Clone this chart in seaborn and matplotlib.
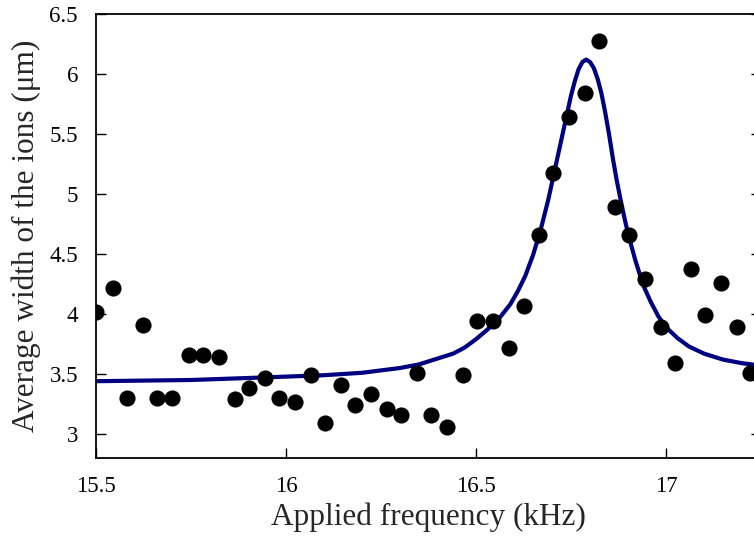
import matplotlib
matplotlib.use("Agg")
import matplotlib.pyplot as plt
import seaborn as sns
import pandas as pd

# Measured points
freq_khz = [15.500, 15.544, 15.581, 15.623, 15.660, 15.700, 15.744, 15.782, 15.823,
            15.867, 15.902, 15.946, 15.982, 16.023, 16.067, 16.103, 16.144, 16.182,
            16.223, 16.265, 16.303, 16.344, 16.382, 16.424, 16.466, 16.503, 16.546,
            16.587, 16.625, 16.666, 16.703, 16.745, 16.787, 16.824, 16.866, 16.903,
            16.945, 16.987, 17.024, 17.065, 17.103, 17.145, 17.186, 17.220]
width_um = [4.02, 4.22, 3.30, 3.91, 3.30, 3.30, 3.656, 3.656, 3.64,
            3.29, 3.386, 3.47, 3.30, 3.27, 3.49, 3.09, 3.406, 3.24,
            3.336, 3.21, 3.156, 3.506, 3.158, 3.058, 3.49, 3.94, 3.94,
            3.72, 4.07, 4.656, 5.175, 5.64, 5.84, 6.275, 4.89, 4.656,
            4.29, 3.89, 3.59, 4.375, 3.99, 4.256, 3.89, 3.506]

# Fitted curve
fit_freq = [15.50, 15.75, 15.93, 16.10, 16.20, 16.30, 16.35, 16.41, 16.44, 16.47,
            16.50, 16.53, 16.56, 16.59, 16.61, 16.63, 16.65, 16.67, 16.69, 16.71,
            16.73, 16.75, 16.76, 16.77, 16.78, 16.79, 16.80, 16.81, 16.82, 16.83,
            16.84, 16.85, 16.86, 16.87, 16.88, 16.89, 16.90, 16.92, 16.94, 16.96,
            16.98, 17.00, 17.03, 17.06, 17.10, 17.15, 17.20, 17.25]
fit_width = [3.44, 3.45, 3.47, 3.49, 3.51, 3.55, 3.58, 3.64, 3.67, 3.72,
             3.79, 3.87, 3.96, 4.08, 4.19, 4.32, 4.49, 4.70, 4.95, 5.24,
             5.53, 5.82, 5.94, 6.04, 6.10, 6.12, 6.10, 6.05, 5.96, 5.84,
             5.68, 5.50, 5.30, 5.12, 4.96, 4.81, 4.67, 4.44, 4.24, 4.10,
             3.98, 3.89, 3.80, 3.73, 3.67, 3.62, 3.59, 3.57]

x_ticks = [15.5, 16, 16.5, 17]
x_tick_labels = ["15.5", "16", "16.5", "17"]
y_ticks = [3, 3.5, 4, 4.5, 5, 5.5, 6, 6.5]
y_tick_labels = ["3", "3.5", "4", "4.5", "5", "5.5", "6", "6.5"]

pts = pd.DataFrame({"f": freq_khz, "w": width_um})
fit = pd.DataFrame({"f": fit_freq, "w": fit_width})

sns.set_style("ticks")
plt.rcParams["font.family"] = ["Liberation Serif", "DejaVu Serif"]

fig = plt.figure(figsize=(7.54, 5.48), dpi=100)
ax = fig.add_axes([96 / 754, 1 - 458 / 548, (761 - 96) / 754, (458 - 14) / 548])

sns.lineplot(data=fit, x="f", y="w", ax=ax, sort=False, estimator=None,
             color="#000080", linewidth=3.0, zorder=2)
ax.lines[-1].set_solid_joinstyle("round")
sns.scatterplot(data=pts, x="f", y="w", ax=ax, color="black", s=135,
                edgecolor="black", linewidth=0, zorder=3)

ax.set_xlim(15.5, 17.25)
ax.set_ylim(2.8, 6.5)
ax.set_xticks(x_ticks)
ax.set_xticklabels(x_tick_labels)
ax.set_yticks(y_ticks)
ax.set_yticklabels(y_tick_labels)

for s in ax.spines.values():
    s.set_visible(True)
    s.set_linewidth(1.3)
    s.set_color("black")

ax.tick_params(axis="both", direction="in", length=7, width=1.0, labelsize=16.5,
               colors="black")
ax.tick_params(axis="y", right=True, pad=13)
ax.tick_params(axis="x", pad=13)

ax.set_xlabel("Applied frequency (kHz)", fontsize=22.5, labelpad=4)
ax.set_ylabel("Average width of the ions (μm)", fontsize=22.5, labelpad=6)

fig.savefig("out.png", dpi=100)
